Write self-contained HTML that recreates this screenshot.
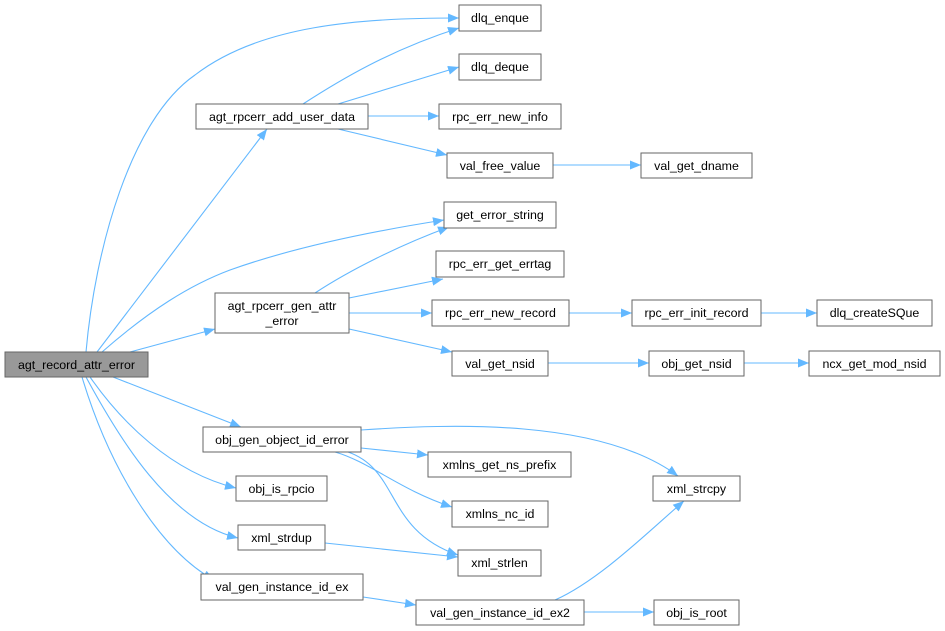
<!DOCTYPE html>
<html><head><meta charset="utf-8"><style>
html,body{margin:0;padding:0;background:#fff;}
svg{display:block;}
text{font-family:"Liberation Sans",Arial,sans-serif;font-size:12.4px;fill:#000;}
.n{fill:#fff;stroke:#666;stroke-width:1;}
.e{fill:none;stroke:#63b8ff;stroke-width:1.1;}
</style></head><body>
<svg width="945" height="631" viewBox="0 0 945 631" xmlns="http://www.w3.org/2000/svg">
<defs><marker id="a" markerUnits="userSpaceOnUse" markerWidth="12" markerHeight="10" refX="11" refY="4.5" orient="auto"><path d="M0,0 L11,4.5 L0,9 z" fill="#63b8ff"/></marker></defs>
<g marker-end="url(#a)">
<path class="e" d="M86,352 C95,250 130,120 195,75 C260,25 360,18 459,18"/>
<path class="e" d="M97,352 L267,129"/>
<path class="e" d="M102,352 C150,310 190,285 230,270 C300,245 380,230 444,220"/>
<path class="e" d="M130,352 L215,329"/>
<path class="e" d="M113,377 L241,427"/>
<path class="e" d="M90,377 C120,420 170,472 236,488"/>
<path class="e" d="M86,377 C120,440 170,522 238,538"/>
<path class="e" d="M82,377 C110,470 160,550 214,580"/>
<path class="e" d="M303,104 C340,80 390,50 459,28"/>
<path class="e" d="M338,104 L459,67"/>
<path class="e" d="M368,116 L439,116"/>
<path class="e" d="M338,129 L447,155"/>
<path class="e" d="M553,165 L641,165"/>
<path class="e" d="M315,293 C350,270 400,245 449,227"/>
<path class="e" d="M349,298 L443,279"/>
<path class="e" d="M349,313 L432,313"/>
<path class="e" d="M349,329 L452,352"/>
<path class="e" d="M569,313 L632,313"/>
<path class="e" d="M761,313 L817,313"/>
<path class="e" d="M548,363 L649,363"/>
<path class="e" d="M744,363 L809,363"/>
<path class="e" d="M361,430 C450,424 600,418 678,476"/>
<path class="e" d="M361,448 L428,455"/>
<path class="e" d="M335,452 C370,462 400,490 452,507"/>
<path class="e" d="M348,452 C400,470 385,530 458,555"/>
<path class="e" d="M325,543 L458,557"/>
<path class="e" d="M363,597 L416,605"/>
<path class="e" d="M555,600 C600,580 650,530 684,501"/>
<path class="e" d="M584,612 L654,612"/>
</g>
<rect x="5" y="352" width="143" height="25" fill="#999" stroke="#666"/>
<text x="76.5" y="369" text-anchor="middle">agt_record_attr_error</text>
<g text-anchor="middle">
<rect class="n" x="459" y="5" width="82" height="26"/><text x="500" y="22">dlq_enque</text>
<rect class="n" x="459" y="54" width="82" height="26"/><text x="500" y="71">dlq_deque</text>
<rect class="n" x="196" y="104" width="172" height="25"/><text x="282" y="121">agt_rpcerr_add_user_data</text>
<rect class="n" x="439" y="104" width="122" height="25"/><text x="500" y="121">rpc_err_new_info</text>
<rect class="n" x="447" y="153" width="106" height="25"/><text x="500" y="170">val_free_value</text>
<rect class="n" x="641" y="153" width="111" height="25"/><text x="696.5" y="170">val_get_dname</text>
<rect class="n" x="444" y="202" width="112" height="26"/><text x="500" y="219">get_error_string</text>
<rect class="n" x="436" y="251" width="128" height="26"/><text x="500" y="268">rpc_err_get_errtag</text>
<rect class="n" x="215" y="293" width="134" height="40"/><text x="282" y="310">agt_rpcerr_gen_attr</text><text x="282" y="325">_error</text>
<rect class="n" x="432" y="300" width="137" height="26"/><text x="500.5" y="317">rpc_err_new_record</text>
<rect class="n" x="632" y="300" width="129" height="26"/><text x="696.5" y="317">rpc_err_init_record</text>
<rect class="n" x="817" y="300" width="115" height="26"/><text x="874.5" y="317">dlq_createSQue</text>
<rect class="n" x="452" y="351" width="96" height="25"/><text x="500" y="368">val_get_nsid</text>
<rect class="n" x="649" y="351" width="95" height="25"/><text x="696.5" y="368">obj_get_nsid</text>
<rect class="n" x="809" y="351" width="131" height="25"/><text x="874.5" y="368">ncx_get_mod_nsid</text>
<rect class="n" x="203" y="427" width="158" height="25"/><text x="282" y="444">obj_gen_object_id_error</text>
<rect class="n" x="428" y="452" width="143" height="25"/><text x="499.5" y="469">xmlns_get_ns_prefix</text>
<rect class="n" x="653" y="476" width="87" height="25"/><text x="696.5" y="493">xml_strcpy</text>
<rect class="n" x="236" y="476" width="91" height="25"/><text x="281.5" y="493">obj_is_rpcio</text>
<rect class="n" x="452" y="501" width="96" height="26"/><text x="500" y="518">xmlns_nc_id</text>
<rect class="n" x="238" y="525" width="87" height="25"/><text x="281.5" y="542">xml_strdup</text>
<rect class="n" x="458" y="550" width="83" height="26"/><text x="499.5" y="567">xml_strlen</text>
<rect class="n" x="201" y="574" width="162" height="26"/><text x="282" y="591">val_gen_instance_id_ex</text>
<rect class="n" x="416" y="600" width="168" height="25"/><text x="500" y="617">val_gen_instance_id_ex2</text>
<rect class="n" x="654" y="600" width="85" height="25"/><text x="696.5" y="617">obj_is_root</text>
</g>
</svg>
</body></html>
